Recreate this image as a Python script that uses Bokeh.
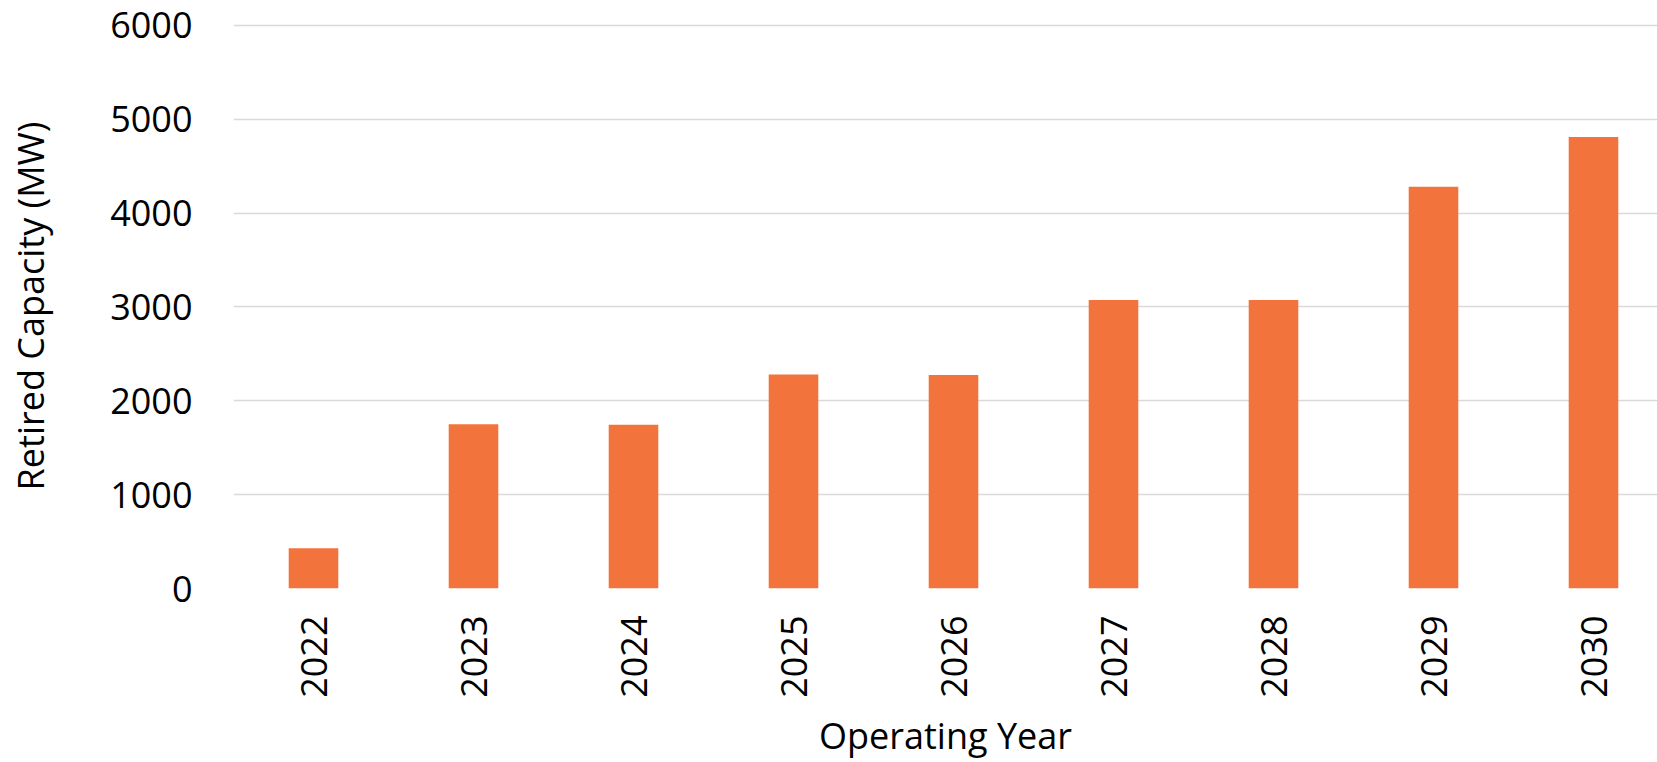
import math
from bokeh.plotting import figure
from bokeh.models import Range1d, FixedTicker, ColumnDataSource
from bokeh.embed import file_html
from bokeh.resources import INLINE

years = ["2022", "2023", "2024", "2025", "2026", "2027", "2028", "2029", "2030"]
capacity = [430, 1750, 1745, 2280, 2275, 3075, 3075, 4280, 4810]
y_ticks = [0, 1000, 2000, 3000, 4000, 5000, 6000]

xs = [i + 0.5 for i in range(len(years))]
src = ColumnDataSource(dict(x=xs, top=capacity, year=years))

FONT = "Open Sans"
FS = "36px"

p = figure(width=1657, height=762, output_backend="svg", toolbar_location=None,
           x_range=Range1d(0, (1657 - 233) / 160.0), y_range=Range1d(0, 6020),
           min_border_left=233, min_border_right=0, min_border_top=23, min_border_bottom=173)
p.outline_line_color = None
p.background_fill_color = "white"
p.border_fill_color = "white"

p.vbar(x="x", top="top", width=0.31, bottom=0, source=src,
       fill_color="#F2743C", line_color=None)

# grid
p.xgrid.grid_line_color = None
p.ygrid.grid_line_color = "#D9D9D9"
p.ygrid.grid_line_width = 1.5
p.ygrid.ticker = FixedTicker(ticks=y_ticks)

# y axis
p.yaxis.ticker = FixedTicker(ticks=y_ticks)
p.yaxis.axis_line_color = None
p.yaxis.major_tick_line_color = None
p.yaxis.minor_tick_line_color = None
p.yaxis.major_tick_out = 0
p.yaxis.major_tick_in = 0
p.yaxis.minor_tick_out = 0
p.yaxis.major_label_standoff = 41
p.yaxis.major_label_text_font = FONT
p.yaxis.major_label_text_font_size = FS
p.yaxis.major_label_text_color = "black"
p.yaxis.axis_label = "Retired Capacity (MW)"
p.yaxis.axis_label_text_font = FONT
p.yaxis.axis_label_text_font_size = FS
p.yaxis.axis_label_text_font_style = "normal"
p.yaxis.axis_label_text_color = "black"
p.yaxis.axis_label_standoff = 52

# x axis
p.xaxis.ticker = FixedTicker(ticks=xs)
p.xaxis.major_label_overrides = {x: y for x, y in zip(xs, years)}
p.xaxis.major_label_orientation = math.pi / 2
p.xaxis.axis_line_color = None
p.xaxis.major_tick_line_color = None
p.xaxis.minor_tick_line_color = None
p.xaxis.major_tick_out = 0
p.xaxis.major_tick_in = 0
p.xaxis.minor_tick_out = 0
p.xaxis.major_label_standoff = 27
p.xaxis.major_label_text_font = FONT
p.xaxis.major_label_text_font_size = FS
p.xaxis.major_label_text_color = "black"
p.xaxis.axis_label = "Operating Year"
p.xaxis.axis_label_text_font = FONT
p.xaxis.axis_label_text_font_size = FS
p.xaxis.axis_label_text_font_style = "normal"
p.xaxis.axis_label_text_color = "black"
p.xaxis.axis_label_standoff = 10

open("out.html", "w").write(file_html(p, INLINE))
